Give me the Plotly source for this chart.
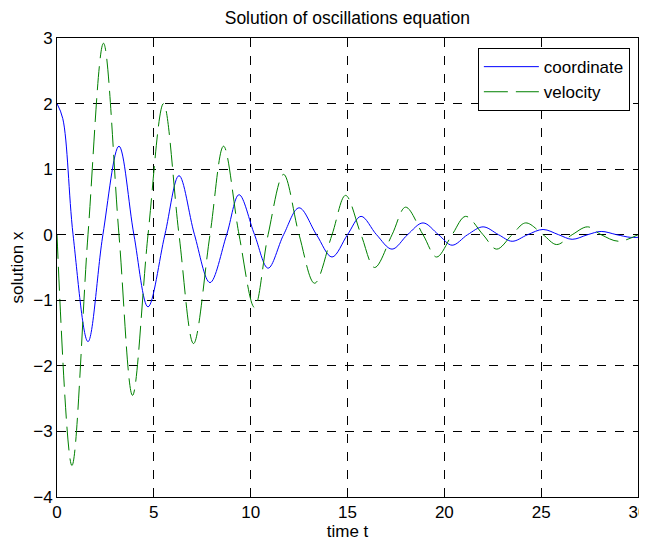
import plotly.graph_objects as go

# coordinate x(t): start, extremes and zero crossings
t_coord = [0, 0.3, 0.83, 1.6, 2.37, 3.2, 3.97, 4.7, 5.57, 6.3, 7.1, 7.9, 8.76,
           9.4, 10.2, 10.9, 11.7, 12.5, 13.4, 14.2, 15.0, 15.7, 16.5, 17.3,
           18.1, 18.9, 19.7, 20.4, 21.2, 22.0, 22.8, 23.5, 24.3, 25.1, 25.9,
           26.6, 27.4, 28.1, 28.9, 29.6, 30]
x_coord = [2.0, 1.77, 0, -1.63, 0, 1.35, 0, -1.1, 0, 0.9, 0, -0.73, 0,
           0.61, 0, -0.51, 0, 0.41, 0, -0.34, 0, 0.28, 0, -0.22,
           0, 0.18, 0, -0.16, 0, 0.12, 0, -0.1, 0, 0.08, 0,
           -0.07, 0, 0.05, 0, -0.04, -0.04]

# velocity v(t)
t_vel = [0, 0.77, 1.6, 2.4, 3.2, 3.9, 4.7, 5.5, 6.3, 7.05, 7.9, 8.6, 9.4,
         10.2, 10.9, 11.7, 12.5, 13.3, 14.2, 14.9, 15.7, 16.4, 17.3, 18.0,
         18.9, 19.6, 20.4, 21.1, 22.0, 22.7, 23.5, 24.2, 25.1, 25.8, 26.6,
         27.4, 28.1, 29.0, 30]
v_vel = [0, -3.52, 0, 2.92, 0, -2.45, 0, 2.0, 0, -1.66, 0, 1.35, 0,
         -1.11, 0, 0.92, 0, -0.74, 0, 0.6, 0, -0.5, 0, 0.42,
         0, -0.34, 0, 0.28, 0, -0.22, 0, 0.18, 0, -0.15, 0,
         0.12, 0, -0.1, 0]

fig = go.Figure()
fig.add_trace(go.Scatter(x=t_coord, y=x_coord, mode="lines", name="coordinate",
                         line=dict(color="#0000ff", width=1, shape="spline")))
fig.add_trace(go.Scatter(x=t_vel, y=v_vel, mode="lines", name="velocity",
                         line=dict(color="#008000", width=1, shape="spline",
                                   dash="24px,8px")))

axis_style = dict(showline=True, mirror="ticks", linecolor="black", linewidth=1,
                  ticks="inside", ticklen=5, tickcolor="black", automargin=False,
                  ticklabeloverflow="allow",
                  showgrid=True, gridcolor="black", gridwidth=1, griddash="dash",
                  zeroline=False, tickfont=dict(size=17, color="black"))

fig.update_xaxes(range=[0, 30], dtick=5, title=dict(text="time t", standoff=3,
                 font=dict(size=17, color="black")), **axis_style)
fig.update_yaxes(range=[-4, 3], dtick=1, title=dict(text="solution x", standoff=6,
                 font=dict(size=17, color="black")), **axis_style)

# the page body adds an 8px offset, so the figure is sized 8px smaller
fig.update_layout(
    width=639, height=535,
    margin=dict(l=49, r=9, t=30, b=46),
    paper_bgcolor="white", plot_bgcolor="white",
    font=dict(family="Liberation Sans, Arial", size=17, color="black"),
    title=dict(text="Solution of oscillations equation", x=0.531, xanchor="center",
               y=0.982, yanchor="middle", font=dict(size=17.5, color="black")),
    legend=dict(x=0.986, y=0.978, xanchor="right", yanchor="top",
                bgcolor="white", bordercolor="black", borderwidth=1,
                itemwidth=55, font=dict(size=17, color="black"), tracegroupgap=0),
)

fig.write_html("out.html")
